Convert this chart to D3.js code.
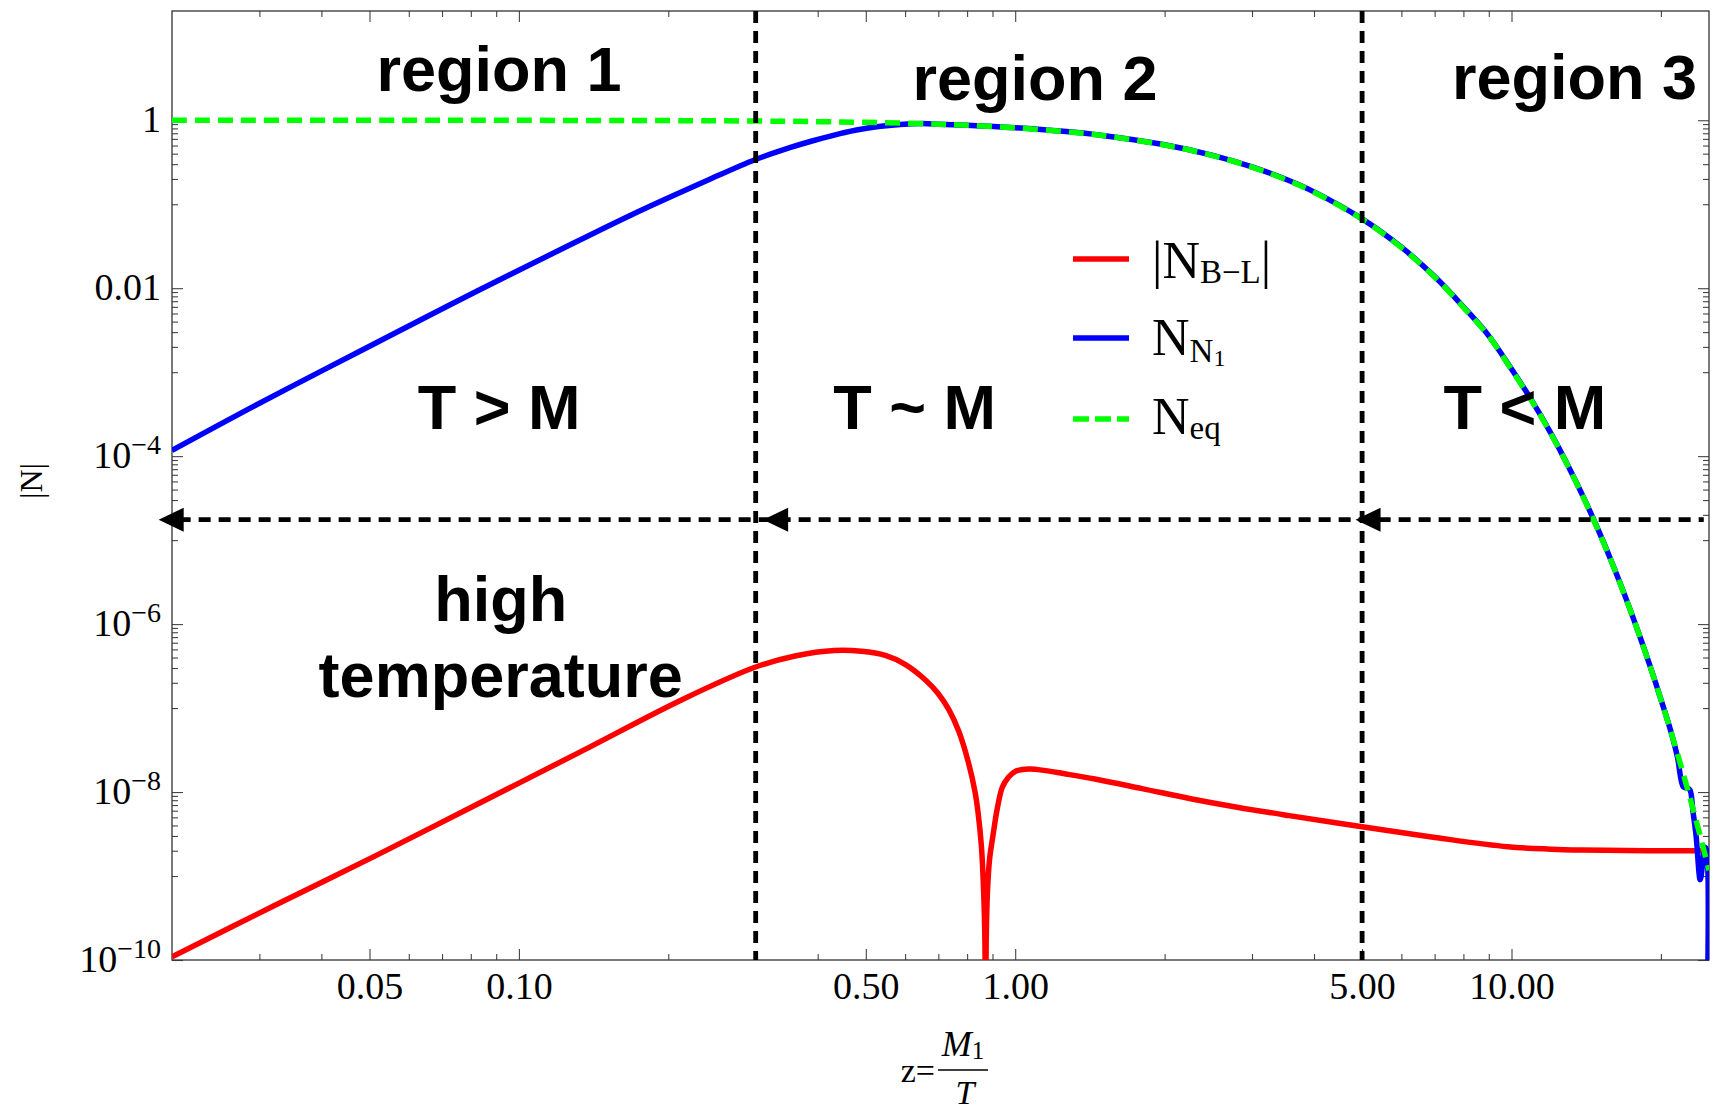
<!DOCTYPE html>
<html><head><meta charset="utf-8">
<script src="https://cdn.jsdelivr.net/npm/d3@7"></script>
<style>body{margin:0;background:#fff} svg{display:block}</style>
</head><body>
<svg id="chart" width="1713" height="1117"></svg>
<script>
// ---------- data ----------
const zEq = [0.02,0.05,0.1,0.2,0.3,0.4,0.5,0.6,0.7,0.8,1.0,1.25,1.5,2,2.5,3,3.5,4,5,6,7,8,9,10,11,12,13,14,15,16,17,18,19,20,21,22,23,24,25];
const nEq = [0.9999,0.9994,0.9975,0.9903,0.9786,0.9629,0.9438,0.9216,0.897,0.8704,0.8124,0.7355,0.6566,0.5075,0.3796,0.2768,0.1979,0.1392,0.06636,0.03046,0.01359,5.928e-3,2.679e-3,1.0755e-3,4.495e-4,1.859e-4,7.63e-5,3.107e-5,1.257e-5,5.056e-6,2.024e-6,8.07e-7,3.20e-7,1.266e-7,4.99e-8,1.96e-8,7.68e-9,3.0e-9,1.17e-9];

const zN1 = [0.02,0.0285,0.0406,0.058,0.0826,0.118,0.168,0.24,0.299,0.35,0.388,0.43,0.476,0.53,0.586,0.65,0.7,0.8,1.0,1.25,1.5,2,2.5,3,3.5,4,5,6,7,8,9,10,11,12,13,14,15,16,17,18,19,20,21,21.6,22.2,22.6,22.9,23.2,23.55,24.0,24.3,24.5,24.68,24.72];
const nN1 = [1.17e-4,3.63e-4,1.08e-3,3.20e-3,9.33e-3,0.0266,0.0741,0.193,0.339,0.468,0.562,0.661,0.759,0.841,0.891,0.912,0.899,0.873,0.815,0.738,0.659,0.51,0.382,0.279,0.1995,0.1404,0.067,0.0308,0.01375,6.0e-3,2.71e-3,1.09e-3,4.55e-4,1.88e-4,7.7e-5,3.14e-5,1.27e-5,5.1e-6,2.04e-6,8.1e-7,3.22e-7,1.27e-7,5.0e-8,2.6e-8,1.15e-8,1.12e-8,1.05e-8,6.0e-9,3.0e-9,9.0e-10,1.5e-9,2.2e-9,2.1e-9,1e-11];

const zBL = [0.02,0.0321,0.0515,0.0826,0.1324,0.2126,0.299,0.36,0.4323,0.49,0.5475,0.6,0.661,0.70,0.7355,0.77,0.805,0.83,0.842,0.855,0.864,0.869,0.8715,0.874,0.879,0.888,0.901,0.92,0.942,0.97,1.0,1.067,1.15,1.25,1.447,1.8,2.27,2.8,3.565,5,7.01,9.83,12,13.79,17,20,23.7,24.75];
const nBL = [1.09e-10,4.43e-10,1.75e-9,7.21e-9,2.97e-8,1.25e-7,3.06e-7,4.17e-7,4.84e-7,4.74e-7,4.23e-7,3.31e-7,2.13e-7,1.48e-7,9.5e-8,5.25e-8,2.24e-8,1.0e-8,5.6e-9,2.24e-9,6.3e-10,1.6e-10,1e-11,1.6e-10,6.3e-10,1.6e-9,2.9e-9,6.3e-9,1.14e-8,1.51e-8,1.76e-8,1.88e-8,1.80e-8,1.66e-8,1.43e-8,1.10e-8,8.28e-9,6.6e-9,5.24e-9,3.86e-9,2.88e-9,2.23e-9,2.09e-9,2.04e-9,2.01e-9,2.0e-9,2.0e-9,2.0e-9];

const xMajorTicks = [0.05,0.1,0.5,1,5,10];
const xTickLabels = ["0.05","0.10","0.50","1.00","5.00","10.00"];
const xMinorTicks = [0.03,0.04,0.06,0.07,0.08,0.09,0.2,0.3,0.4,0.6,0.7,0.8,0.9,2,3,4,6,7,8,9,20];
const yMajorTicks = [1,1e-2,1e-4,1e-6,1e-8,1e-10];
const yTickBase = ["1","0.01","10","10","10","10"];
const yTickExp  = ["","","−4","−6","−8","−10"];
const yMinorTicks = [0.9,0.8,0.7,0.6,0.5,0.4,0.3,0.2,0.1].flatMap(m => [1,1e-2,1e-4,1e-6,1e-8].map(p => m*p));

const regionBounds = [0.3, 5];
const arrowLevel = 1.75e-5;
const arrowTips = [0.0188, 0.3105, 4.85];
const arrowEndZ = 24.4;

const annotText = ["region 1","region 2","region 3","T > M","T ~ M","T < M","high","temperature"];
const annotZ    = [0.0912, 1.096, 13.4, 0.0912, 0.627, 10.64, 0.0919, 0.0919];
const annotN    = [2.2, 1.74, 1.79, 2.09e-4, 2.09e-4, 2.09e-4, 1.08e-6, 1.35e-7];

// ---------- drawing ----------
const svg = d3.select("#chart");
const L = 172, R = 1709, T = 11, B = 960;
const x = d3.scaleLog().domain([0.02, 25]).range([L, R]);
const y = d3.scaleLog().domain([1e-10, 20]).range([B, T]);
const serif = "'Liberation Serif','Times New Roman',serif";
const sans = "'Liberation Sans',Arial,Helvetica,sans-serif";

svg.append("defs").append("clipPath").attr("id","plotclip")
  .append("rect").attr("x",L).attr("y",T).attr("width",R-L).attr("height",B-T);

// axes ticks
function styleAxis(g){ g.select(".domain").remove(); g.selectAll(".tick line").attr("stroke","#444").attr("stroke-width",1.1); }
svg.append("g").attr("transform",`translate(0,${B})`)
  .call(d3.axisBottom(x).tickValues(xMajorTicks).tickSize(-11).tickPadding(12).tickFormat((d,i)=>xTickLabels[i]))
  .call(styleAxis)
  .call(g=>g.selectAll("text").attr("font-family",serif).attr("font-size",38).attr("fill","#000"));
svg.append("g").attr("transform",`translate(0,${B})`)
  .call(d3.axisBottom(x).tickValues(xMinorTicks).tickSize(-6).tickFormat("")).call(styleAxis);
svg.append("g").attr("transform",`translate(0,${T})`)
  .call(d3.axisTop(x).tickValues(xMajorTicks).tickSize(-11).tickFormat("")).call(styleAxis);
svg.append("g").attr("transform",`translate(0,${T})`)
  .call(d3.axisTop(x).tickValues(xMinorTicks).tickSize(-6).tickFormat("")).call(styleAxis);
svg.append("g").attr("transform",`translate(${L},0)`)
  .call(d3.axisLeft(y).tickValues(yMajorTicks).tickSize(-11).tickFormat("")).call(styleAxis);
svg.append("g").attr("transform",`translate(${L},0)`)
  .call(d3.axisLeft(y).tickValues(yMinorTicks).tickSize(-6).tickFormat("")).call(styleAxis);
svg.append("g").attr("transform",`translate(${R},0)`)
  .call(d3.axisRight(y).tickValues(yMajorTicks).tickSize(-11).tickFormat("")).call(styleAxis);
svg.append("g").attr("transform",`translate(${R},0)`)
  .call(d3.axisRight(y).tickValues(yMinorTicks).tickSize(-6).tickFormat("")).call(styleAxis);

// y tick labels
const yl = svg.append("g").attr("font-family",serif).attr("fill","#000");
yMajorTicks.forEach((v,i)=>{
  const t = yl.append("text").attr("x",L-11).attr("y",y(v)+12).attr("text-anchor","end").attr("font-size",38);
  t.append("tspan").text(yTickBase[i]);
  if (yTickExp[i]) t.append("tspan").attr("font-size",28).attr("dy",-14).text(yTickExp[i]);
});

// frame
svg.append("rect").attr("x",L).attr("y",T).attr("width",R-L).attr("height",B-T)
  .attr("fill","none").attr("stroke","#333").attr("stroke-width",1.3);

// curves
const line = d3.line().x(d=>x(d[0])).y(d=>y(d[1])).curve(d3.curveCatmullRom.alpha(0.5));
const plot = svg.append("g").attr("clip-path","url(#plotclip)");
plot.append("path").attr("d",line(zBL.map((z,i)=>[z,nBL[i]]))).attr("fill","none").attr("stroke","#ff0000").attr("stroke-width",5.5);
plot.append("path").attr("d",line(zN1.map((z,i)=>[z,nN1[i]]))).attr("fill","none").attr("stroke","#0000ff").attr("stroke-width",5.5);
plot.append("path").attr("d",line(zEq.map((z,i)=>[z,nEq[i]]))).attr("fill","none").attr("stroke","#00ff00").attr("stroke-width",5.5).attr("stroke-dasharray","15,8");

// region boundaries
regionBounds.forEach(z=>{
  svg.append("line").attr("x1",x(z)).attr("x2",x(z)).attr("y1",T).attr("y2",B)
    .attr("stroke","#000").attr("stroke-width",4.8).attr("stroke-dasharray","12,8");
});
// arrows
const ay = y(arrowLevel);
svg.append("line").attr("x1",x(arrowTips[0])+20).attr("x2",x(arrowEndZ)).attr("y1",ay).attr("y2",ay)
  .attr("stroke","#000").attr("stroke-width",4.8).attr("stroke-dasharray","12,8");
arrowTips.forEach(z=>{
  const xt = x(z);
  svg.append("path").attr("d",`M${xt},${ay}L${xt+25},${ay-12}L${xt+25},${ay+12}Z`).attr("fill","#000");
});

// annotations
const an = svg.append("g").attr("font-family",sans).attr("font-weight","bold").attr("font-size",63).attr("fill","#000").attr("text-anchor","middle");
annotText.forEach((s,i)=>{
  an.append("text").attr("x",x(annotZ[i])).attr("y",y(annotN[i])).text(s);
});

// legend
const lg = svg.append("g");
const rows = [
  {y:259, color:"#ff0000", dash:null},
  {y:338, color:"#0000ff", dash:null},
  {y:419, color:"#00ff00", dash:"16,6"}
];
rows.forEach(r=>{
  const l = lg.append("line").attr("x1",1073).attr("x2",1129).attr("y1",r.y).attr("y2",r.y).attr("stroke",r.color).attr("stroke-width",5.5);
  if (r.dash) l.attr("stroke-dasharray",r.dash);
});
const lt = lg.append("g").attr("font-family",serif).attr("fill","#000").attr("font-size",52);
let t1 = lt.append("text").attr("x",1152).attr("y",278);
t1.append("tspan").text("|N");
t1.append("tspan").attr("font-size",33).attr("dy",5).text("B−L");
t1.append("tspan").attr("dy",-5).text("|");
let t2 = lt.append("text").attr("x",1152).attr("y",355);
t2.append("tspan").text("N");
t2.append("tspan").attr("font-size",33).attr("dy",7).text("N");
t2.append("tspan").attr("font-size",24).attr("dy",4).text("1");
let t3 = lt.append("text").attr("x",1152).attr("y",434);
t3.append("tspan").text("N");
t3.append("tspan").attr("font-size",33).attr("dy",5).text("eq");

// axis titles
svg.append("text").attr("transform","translate(42,481) rotate(-90)").attr("text-anchor","middle")
  .attr("font-family",serif).attr("font-size",32).text("|N|");
const xt = svg.append("g").attr("font-family",serif).attr("fill","#000");
xt.append("text").attr("x",935).attr("y",1082).attr("text-anchor","end").attr("font-size",34).text("z=");
xt.append("line").attr("x1",938).attr("x2",988).attr("y1",1070).attr("y2",1070).attr("stroke","#000").attr("stroke-width",1.6);
const m1 = xt.append("text").attr("x",963).attr("y",1056).attr("text-anchor","middle").attr("font-size",36);
m1.append("tspan").attr("font-style","italic").text("M");
m1.append("tspan").attr("font-size",25).attr("dy",3).text("1");
xt.append("text").attr("x",965).attr("y",1104).attr("text-anchor","middle").attr("font-size",34).attr("font-style","italic").text("T");
</script>
</body></html>
